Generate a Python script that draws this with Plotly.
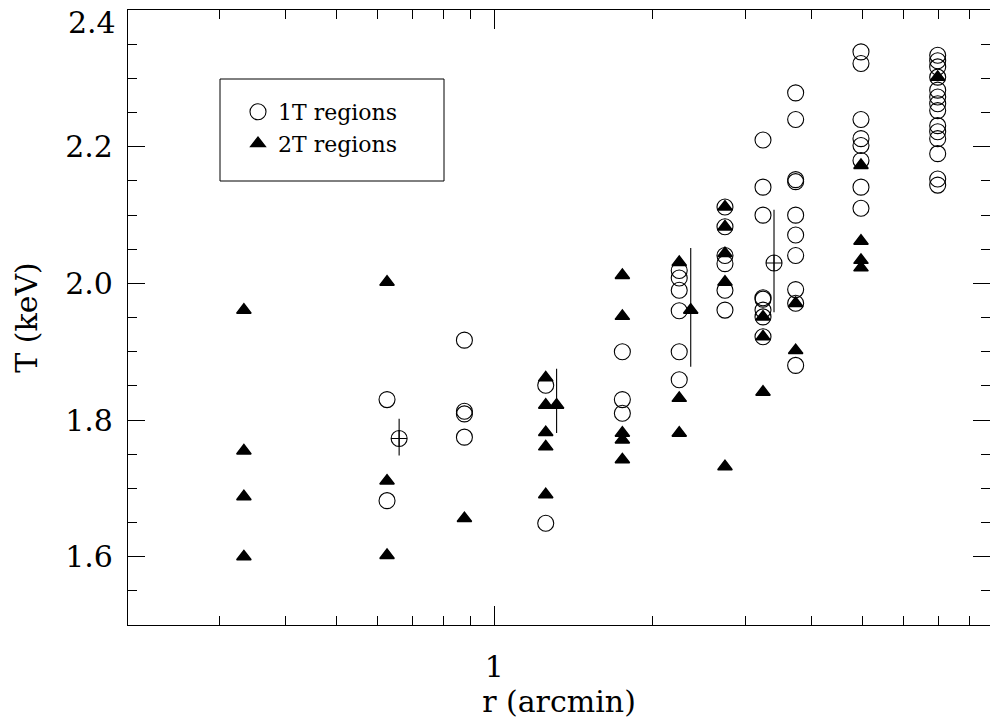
import math
import plotly.graph_objects as go

# ---------------- data ----------------
# 1T regions (open circles)
r_1t = ([0.625] * 2 +
        [0.877] * 4 +
        [1.252] * 2 +
        [1.751] * 3 +
        [2.246] * 6 +
        [2.744] * 6 +
        [3.241] * 8 +
        [3.739] * 10 +
        [4.977] * 8 +
        [6.963] * 14)
T_1t = [1.830, 1.682,
        1.917, 1.813, 1.809, 1.775,
        1.851, 1.649,
        1.900, 1.830, 1.810,
        2.019, 2.008, 1.990, 1.960, 1.900, 1.859,
        2.112, 2.083, 2.041, 2.029, 1.990, 1.961,
        2.210, 2.141, 2.100, 1.979, 1.977, 1.961, 1.951, 1.922,
        2.279, 2.240, 2.152, 2.149, 2.100, 2.071, 2.041, 1.991, 1.971, 1.880,
        2.339, 2.322, 2.240, 2.212, 2.202, 2.180, 2.141, 2.110,
        2.334, 2.326, 2.317, 2.302, 2.283, 2.273, 2.263, 2.253, 2.231, 2.222,
        2.212, 2.190, 2.153, 2.144]

# 2T regions (filled triangles)
r_2t = ([0.334] * 4 +
        [0.625] * 3 +
        [0.877] * 1 +
        [1.252] * 5 +
        [1.751] * 5 +
        [2.246] * 3 +
        [2.744] * 5 +
        [3.241] * 3 +
        [3.739] * 2 +
        [4.977] * 4 +
        [6.963] * 1)
T_2t = [1.961, 1.755, 1.688, 1.600,
        2.002, 1.711, 1.602,
        1.656,
        1.862, 1.822, 1.782, 1.761, 1.691,
        2.012, 1.952, 1.781, 1.771, 1.742,
        2.031, 1.832, 1.781,
        2.112, 2.083, 2.044, 2.002, 1.732,
        1.951, 1.922, 1.841,
        1.971, 1.902,
        2.173, 2.062, 2.034, 2.023,
        2.302]

# mean values with error bars
r_mean_1t = [0.659, 3.401]
T_mean_1t = [1.773, 2.030]
err_up_1t = [0.029, 0.078]
err_dn_1t = [0.025, 0.072]

r_mean_2t = [1.313, 2.362]
T_mean_2t = [1.822, 1.961]
err_up_2t = [0.053, 0.091]
err_dn_2t = [0.041, 0.083]

x_major = [1]
x_major_text = ["1"]
x_minor = [0.3, 0.4, 0.5, 0.6, 0.7, 0.8, 0.9, 2, 3, 4, 5, 6, 7, 8]
y_major = [1.6, 1.8, 2.0, 2.2, 2.4]
y_major_text = ["1.6", "1.8", "2.0", "2.2", ""]
y_top_label = "2.4"

legend_names = ["1T regions", "2T regions"]

# ---------------- figure ----------------
FONT = "DejaVu Serif"
fig = go.Figure()

fig.add_trace(go.Scatter(
    x=r_1t, y=T_1t, mode="markers", name=legend_names[0], legendgroup="a",
    marker=dict(symbol="circle-open", size=16, color="black", line=dict(width=1.1, color="black")),
))
fig.add_trace(go.Scatter(
    x=r_2t, y=T_2t, mode="markers", name=legend_names[1], legendgroup="b",
    marker=dict(symbol="triangle-up", size=12.5, color="black", line=dict(width=1.5, color="black")),
))
fig.add_trace(go.Scatter(
    x=r_mean_1t, y=T_mean_1t, mode="markers", showlegend=False,
    marker=dict(symbol="circle-cross-open", size=16, color="black", line=dict(width=1.1, color="black")),
    error_y=dict(type="data", symmetric=False, array=err_up_1t, arrayminus=err_dn_1t,
                 width=0, thickness=1.1, color="black"),
))
fig.add_trace(go.Scatter(
    x=r_mean_2t, y=T_mean_2t, mode="markers", showlegend=False,
    marker=dict(symbol="triangle-up", size=12.5, color="black", line=dict(width=1.5, color="black")),
    error_y=dict(type="data", symmetric=False, array=err_up_2t, arrayminus=err_dn_2t,
                 width=0, thickness=1.1, color="black"),
))

W, H = 990, 728
ml, mr, mt, mb = 128, 0, 10, 103
pw, ph = W - ml - mr, H - mt - mb


def px_x(p):
    return (p - ml) / pw


def px_y(p):
    return (H - mb - p) / ph


fig.update_layout(
    width=W, height=H,
    margin=dict(l=ml, r=mr, t=mt, b=mb),
    paper_bgcolor="white", plot_bgcolor="white",
    font=dict(family=FONT, color="black", size=30),
    showlegend=True,
    legend=dict(x=px_x(238), y=px_y(91), xanchor="left", yanchor="top",
                bgcolor="rgba(0,0,0,0)", borderwidth=0,
                font=dict(family=FONT, size=22, color="black"),
                tracegroupgap=0),
    shapes=[dict(type="rect", xref="paper", yref="paper",
                 x0=px_x(220), x1=px_x(444), y0=px_y(181), y1=px_y(79),
                 line=dict(color="black", width=1))],
    annotations=[dict(text=y_top_label, xref="paper", yref="y",
                      x=px_x(118), y=y_major[-1], xanchor="right", yanchor="middle",
                      yshift=-12, showarrow=False,
                      font=dict(family=FONT, size=30, color="black"))],
)

fig.update_xaxes(
    type="log", range=[math.log10(0.2011), math.log10(8.755)],
    automargin=False,
    showline=True, linecolor="black", linewidth=1.2, mirror="ticks",
    ticks="inside", ticklen=19, tickwidth=1, tickcolor="black",
    tickvals=x_major, ticktext=x_major_text,
    minor=dict(tickmode="array", tickvals=x_minor, ticks="inside", ticklen=9,
               tickwidth=1, tickcolor="black", showgrid=False),
    showgrid=False, zeroline=False,
    ticklabelstandoff=15,
    tickfont=dict(family=FONT, size=30),
    title=dict(text="r (arcmin)", font=dict(family=FONT, size=30), standoff=4),
)
fig.update_yaxes(
    range=[1.5, 2.4003],
    automargin=False,
    showline=True, linecolor="black", linewidth=1.2, mirror="ticks",
    ticks="inside", ticklen=17, tickwidth=1, tickcolor="black",
    tickvals=y_major, ticktext=y_major_text,
    minor=dict(tick0=1.5, dtick=0.05, ticks="inside", ticklen=9,
               tickwidth=1, tickcolor="black", showgrid=False),
    showgrid=False, zeroline=False,
    ticklabelstandoff=8,
    tickfont=dict(family=FONT, size=30),
    title=dict(text="T (keV)", font=dict(family=FONT, size=30), standoff=18),
)

fig.write_html("out.html")
